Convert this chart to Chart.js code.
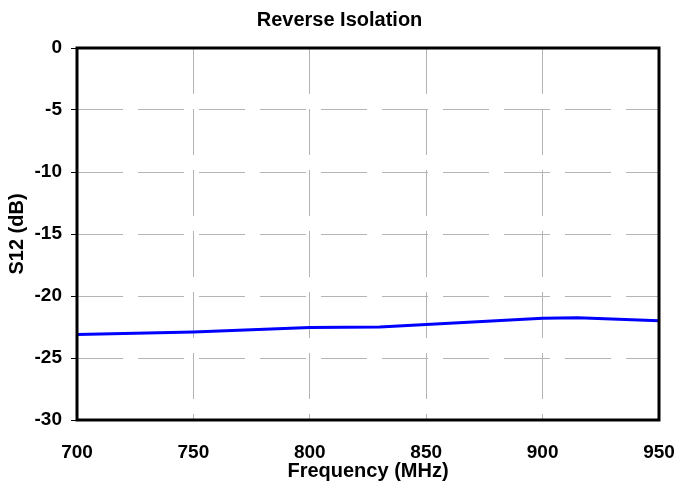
<!DOCTYPE html>
<html>
<head>
<meta charset="utf-8">
<script src="https://cdn.jsdelivr.net/npm/chart.js@4"></script>
<style>
  html, body { margin: 0; padding: 0; background: #fff; }
  #wrap { width: 679px; height: 493px; }
</style>
</head>
<body>
<div id="wrap"><canvas id="isoChart" width="679" height="493"></canvas></div>
<script>
// Reverse isolation S12 vs frequency
const freqMHz = [700, 750, 800, 830, 850, 900, 915, 950];
const s12dB = [-23.1, -22.9, -22.55, -22.5, -22.3, -21.8, -21.75, -22.0];
const xTicks = [700, 750, 800, 850, 900, 950];
const yTicks = [0, -5, -10, -15, -20, -25, -30];

const FONT = "'Liberation Sans', Arial, sans-serif";
Chart.defaults.font.family = FONT;
Chart.defaults.color = "#000";

// thick black frame round the plot area
const framePlugin = {
  id: "frame",
  afterDatasetsDraw(chart) {
    const { ctx, chartArea: a } = chart;
    ctx.save();
    ctx.strokeStyle = "#000";
    ctx.lineWidth = 3;
    ctx.strokeRect(a.left, a.top, a.right - a.left, a.bottom - a.top);
    ctx.restore();
  },
};

const ctx = document.getElementById("isoChart").getContext("2d");
new Chart(ctx, {
  type: "line",
  data: {
    datasets: [
      {
        label: "S12",
        data: freqMHz.map((f, i) => ({ x: f, y: s12dB[i] })),
        borderColor: "#0000ff",
        borderWidth: 3,
        pointRadius: 0,
        tension: 0,
        fill: false,
      },
    ],
  },
  options: {
    responsive: false,
    animation: false,
    layout: { padding: 0 },
    plugins: {
      legend: { display: false },
      tooltip: { enabled: false },
      title: {
        display: true,
        text: "Reverse Isolation",
        font: { size: 20, weight: "bold" },
        padding: { top: 8, bottom: 16 },
      },
    },
    scales: {
      x: {
        type: "linear",
        min: 700,
        max: 950,
        afterBuildTicks: (s) => { s.ticks = xTicks.map((v) => ({ value: v })); },
        afterFit: (s) => {
          s.height = 73;
          s.paddingLeft = 0;
          s.paddingRight = 20;
        },
        ticks: { font: { size: 19, weight: "bold" }, padding: 21, maxRotation: 0 },
        grid: { color: "#b4b4b4", lineWidth: 1, drawTicks: false },
        border: { display: false, dash: [46, 15] },
        title: {
          display: true,
          text: "Frequency (MHz)",
          font: { size: 20, weight: "bold" },
          padding: { top: 0, bottom: 10 },
        },
      },
      y: {
        min: -30,
        max: 0,
        afterBuildTicks: (s) => { s.ticks = yTicks.map((v) => ({ value: v })); },
        afterFit: (s) => { s.width = 77; },
        ticks: { font: { size: 19, weight: "bold" }, padding: 9 },
        grid: {
          color: "#b4b4b4",
          lineWidth: 1,
          drawTicks: true,
          tickLength: 6,
          tickColor: "#000",
          tickBorderDash: [],
        },
        border: { display: false, dash: [46, 15] },
        title: {
          display: true,
          text: "S12 (dB)",
          font: { size: 20, weight: "bold" },
          padding: { top: 5, bottom: 0 },
        },
      },
    },
  },
  plugins: [framePlugin],
});
</script>
</body>
</html>
